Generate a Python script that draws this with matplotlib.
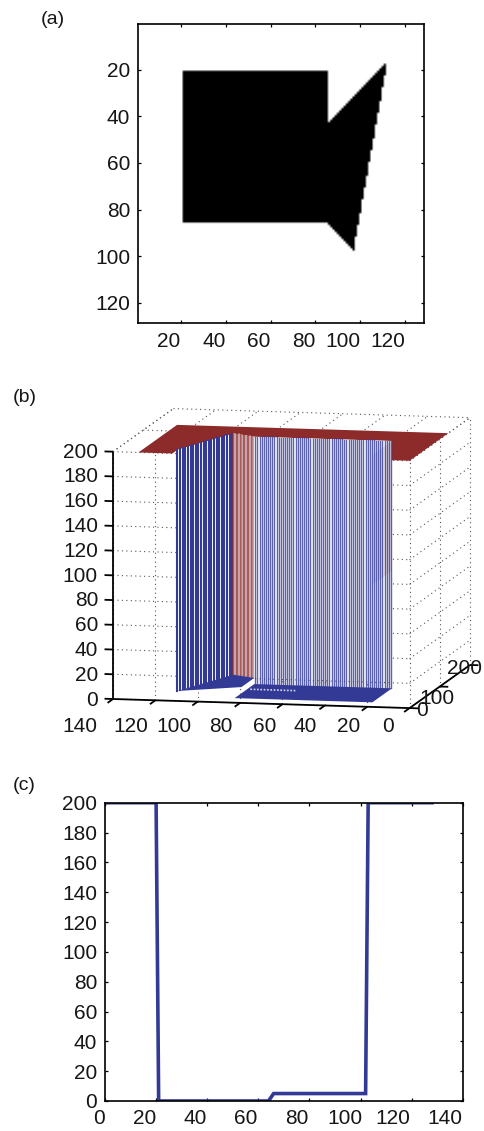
import numpy as np
import matplotlib
matplotlib.use('Agg')
import matplotlib.pyplot as plt
from matplotlib.path import Path
from mpl_toolkits.mplot3d import proj3d
from mpl_toolkits.mplot3d.art3d import Poly3DCollection

plt.rcParams['font.family'] = ['Liberation Sans', 'DejaVu Sans']

W, H = 484, 1131
AZUL = '#323a96'
ROJO = '#8c2b2a'
TINTA = '#161616'

# forma de la imagen (a): columna, fila
forma_x = [20.5, 85.5, 85.5, 112, 97, 85.5, 20.5]
forma_y = [20.5, 20.5, 43, 17, 97, 85.5, 85.5]
lado = 128

# superficie (b)
altura = 200
piso_rect = 0
piso_tri = 5
placa_x = [128, 112, 112, 97, 85.5, 20.5, 20.5, 0, 0, 128]
placa_y = [0, 0, 17, 97, 85.5, 85.5, 0, 0, 128, 128]
tri_x = [85.5, 112, 97, 85.5]
tri_y = [43, 17, 97, 85.5]
rect_x = [85.5, 20.5, 20.5, 85.5]
rect_y = [20.5, 20.5, 85.5, 85.5]
ticks_x3 = [140, 120, 100, 80, 60, 40, 20, 0]
ticks_y3 = [0, 100, 200]
ticks_z = [0, 20, 40, 60, 80, 100, 120, 140, 160, 180, 200]

# corte (c)
corte_x = [1, 20, 21, 64, 66, 102, 103, 128]
corte_z = [200, 200, 0, 0, 5, 5, 200, 200]
ticks_c = [0, 20, 40, 60, 80, 100, 120, 140]


def caja(izq, der, arriba, abajo):
    return [izq / W, 1 - abajo / H, (der - izq) / W, (abajo - arriba) / H]


def texto(x, y, s, size=15, ha='center'):
    fig.text(x / W, 1 - y / H, s, fontsize=size, ha=ha, va='center', color=TINTA)


def estilo(ax):
    ax.tick_params(direction='in', top=True, right=True, length=2.4, width=0.9,
                   labelsize=15, labelcolor=TINTA, pad=5.5)
    for s in ax.spines.values():
        s.set_linewidth(1.2)


fig = plt.figure(figsize=(W / 100, H / 100), dpi=100, facecolor='white')

# ---- (a) imagen binaria
ax_a = fig.add_axes(caja(137.7, 423.7, 24, 322.7))
cols, filas = np.meshgrid(np.arange(1, lado + 1), np.arange(1, lado + 1))
puntos = np.column_stack([cols.ravel(), filas.ravel()])
mascara = Path(np.column_stack([forma_x, forma_y])).contains_points(puntos).reshape(cols.shape)
ax_a.imshow(~mascara, cmap='gray', vmin=0, vmax=1, extent=(0.5, lado + 0.5, lado + 0.5, 0.5),
            aspect='auto', interpolation='bilinear')
ax_a.set_xticks([20, 40, 60, 80, 100, 120])
ax_a.set_yticks([20, 40, 60, 80, 100, 120])
ax_a.set_xticklabels([])
estilo(ax_a)
for v, cx in zip([20, 40, 60, 80, 100, 120], [169, 214, 259, 304, 343, 388]):
    texto(cx, 342, str(v))

# ---- (b) superficie, vista ortogonal
ax_b = fig.add_axes(caja(51.5, 531.5, 318, 798), projection='3d', computed_zorder=False)
ax_b.set_proj_type('ortho')
ax_b.view_init(elev=8.5, azim=-78.3)
ax_b.set_xlim(140, 0)
ax_b.set_ylim(0, 200)
ax_b.set_zlim(0, 200)
ax_b.set_axis_off()
ax_b.patch.set_alpha(0)


def medir():
    ax_b.apply_aspect()
    xs, ys, _ = proj3d.proj_transform(np.array([140.0, 0.0]), np.array([0.0, 200.0]),
                                      np.array([0.0, 200.0]), ax_b.get_proj())
    return ax_b.transData.transform(np.column_stack([xs, ys]))


# ajuste de escala para que la caja caiga donde va
ax_b.set_box_aspect((301, 296, 248.5), zoom=1.0)
p = medir()
z = 357.0 / (p[1, 0] - p[0, 0])
ax_b.set_box_aspect((301, 296, 248.5), zoom=z)
p = medir()
dx = 113 - p[0, 0]
dy = (H - 699) - p[0, 1]
pos = ax_b.get_position()
ax_b.set_position([pos.x0 + dx / W, pos.y0 + dy / H, pos.width, pos.height])


def linea(xs, ys, zs, **kw):
    ax_b.plot(xs, ys, zs, **kw)


punt = dict(color='#555555', lw=0.8, ls=(0, (1, 3)), zorder=1)
for v in ticks_z:
    linea([140, 0], [0, 0], [v, v], **punt)
    linea([0, 0], [0, 200], [v, v], **punt)
for v in ticks_x3:
    linea([v, v], [0, 0], [0, 200], **punt)
    linea([v, v], [0, 200], [200, 200], **punt)
for v in ticks_y3[1:]:
    linea([0, 0], [v, v], [0, 200], **punt)
    linea([140, 0], [v, v], [200, 200], **punt)
linea([140, 140], [0, 200], [200, 200], **punt)

# placa superior
ax_b.add_collection3d(Poly3DCollection(
    [list(zip(placa_x, placa_y, [altura] * len(placa_x)))],
    facecolor=ROJO, edgecolor='none', zorder=2))

# pared del fondo: tapa blanca y lineas de la malla
muro_x = [112, 97, 85.5, 20.5]
muro_y = [17, 97, 85.5, 85.5]
ax_b.add_collection3d(Poly3DCollection(
    [[(a, b, altura) for a, b in zip(muro_x, muro_y)] +
     [(a, b, piso_tri) for a, b in zip(muro_x[::-1], muro_y[::-1])]],
    facecolor='white', edgecolor='none', zorder=3))
ax_b.add_collection3d(Poly3DCollection(
    [[(20.5, 20.5, 95), (20.5, 85.5, 95), (20.5, 85.5, 200), (20.5, 20.5, 200)]],
    facecolor=ROJO, alpha=0.12, edgecolor='none', zorder=3))

for xm in np.arange(112, 97, -0.7):
    ym = np.interp(xm, [97, 112], [97, 17])
    linea([xm, xm], [ym, ym], [piso_tri, altura], color=AZUL, lw=1.5, zorder=4)
for i, xm in enumerate(np.arange(97, 85.5, -1.0)):
    ym = np.interp(xm, [85.5, 97], [85.5, 97])
    col = ROJO if i % 2 == 0 else '#b98a92'
    linea([xm, xm], [ym, ym], [piso_tri, altura], color=col, lw=1.1, zorder=4)
for xm in np.arange(85, 20, -1.0):
    linea([xm, xm], [85.5, 85.5], [piso_rect, altura], color=AZUL, lw=1.0, alpha=0.8, zorder=4)

# fondo
ax_b.add_collection3d(Poly3DCollection(
    [list(zip(tri_x, tri_y, [piso_tri] * len(tri_x)))],
    facecolor=AZUL, edgecolor='none', zorder=5))
ax_b.add_collection3d(Poly3DCollection(
    [list(zip(rect_x, rect_y, [piso_rect] * len(rect_x)))],
    facecolor=AZUL, edgecolor='none', zorder=5))
linea([84, 62], [62, 62], [piso_rect, piso_rect], color='#d5d7ec', lw=1.2, ls=(0, (1, 1)), zorder=5)

# ejes solidos
sol = dict(color='black', lw=1.3, zorder=6, solid_capstyle='butt')
linea([140, 140], [0, 0], [0, 200], **sol)
linea([140, 0], [0, 0], [0, 0], **sol)
linea([0, 0], [0, 200], [0, 0], **sol)
for v in ticks_z:
    linea([140, 144], [0, 0], [v, v], **sol)
for v in ticks_x3:
    linea([v, v], [0, -18], [0, 0], **sol)
for v in ticks_y3:
    linea([0, -4], [v, v], [0, 0], **sol)

for v in ticks_z:
    texto(98, 700 - v * 1.24, str(v), ha='right')
for v, cx in zip(ticks_x3, [80, 131, 174, 221, 265, 305, 349, 388]):
    texto(cx, 727, str(v))
for v, cx, cy in zip(ticks_y3, [422, 437, 465], [710, 698, 668]):
    texto(cx, cy, str(v))

# ---- (c) corte
ax_c = fig.add_axes(caja(105, 462.7, 802.7, 1101))
ax_c.plot(corte_x, corte_z, color=AZUL, lw=2.6, solid_joinstyle='miter')
ax_c.set_xlim(0, 140)
ax_c.set_ylim(0, 200)
ax_c.set_xticks(ticks_c)
ax_c.set_yticks(ticks_z)
ax_c.set_xticklabels([])
estilo(ax_c)
for v, cx in zip(ticks_c, [99, 145, 195, 246, 297, 345, 393, 445]):
    texto(cx, 1119, str(v))

texto(41, 19, '(a)', size=14, ha='left')
texto(13, 398, '(b)', size=14, ha='left')
texto(13, 785, '(c)', size=14, ha='left')

fig.savefig('out.png', dpi=100)
